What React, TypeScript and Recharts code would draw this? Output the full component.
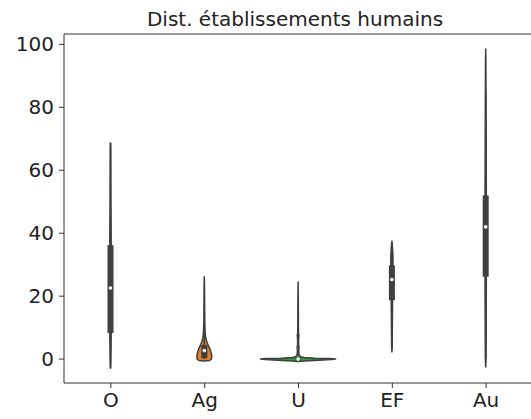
import React from 'react';
import { Bar, ComposedChart, ReferenceLine, XAxis, YAxis } from 'recharts';

// categories and y ticks
const categories = ['O', 'Ag', 'U', 'EF', 'Au'];
const yTicks = [0, 20, 40, 60, 80, 100];
const yMin = -7.6;
const yMax = 103.3;

// violin extent (min / max of the kde)
const violinLow = [-2.9, -0.6, -0.8, 2.3, -2.5];
const violinHigh = [68.7, 26.2, 24.5, 37.5, 98.5];

// inner box
const whiskerLow = [-2.9, 0, 0, 3, 0.5];
const whiskerHigh = [68.7, 10, 0.5, 37, 85];
const q1 = [8.3, 0.3, 0, 18.7, 26.2];
const q3 = [36.2, 4.5, 0.2, 29.8, 52];
const median = [22.6, 2.7, 0, 25.3, 42];

// density profiles: [value, relative half width]
const densityO = [
  [-2.9, 0], [-1, 0.006], [2, 0.011], [6, 0.016], [10, 0.02], [15, 0.022], [20, 0.023],
  [25, 0.022], [30, 0.021], [36, 0.018], [42, 0.016], [48, 0.011], [55, 0.008], [62, 0.006],
  [67, 0.004], [68.7, 0],
];
const densityAg = [
  [-0.6, 0], [-0.45, 0.14], [0, 0.19], [0.8, 0.2], [1.6, 0.19], [2.5, 0.17], [3.5, 0.14],
  [4.5, 0.1], [5.5, 0.066], [7, 0.036], [9, 0.02], [12, 0.013], [16, 0.01], [20, 0.008],
  [24, 0.005], [26.2, 0],
];
const densityU = [
  [-0.8, 0], [-0.6, 0.15], [-0.35, 0.55], [-0.15, 0.88], [0, 1], [0.15, 0.85], [0.3, 0.45],
  [0.5, 0.16], [0.75, 0.06], [1.5, 0.025], [2.5, 0.018], [3.9, 0.026], [4.4, 0.014], [6, 0.012],
  [7.6, 0.022], [8.3, 0.01], [12, 0.008], [18, 0.006], [24.5, 0],
];
const densityEF = [
  [2.3, 0], [4, 0.006], [8, 0.01], [12, 0.013], [16, 0.016], [20, 0.02], [24, 0.024],
  [28, 0.028], [31, 0.03], [33, 0.027], [35, 0.018], [36.5, 0.009], [37.5, 0],
];
const densityAu = [
  [-2.5, 0], [0, 0.008], [5, 0.01], [10, 0.012], [20, 0.015], [30, 0.017], [40, 0.018],
  [50, 0.017], [60, 0.014], [70, 0.011], [80, 0.009], [88, 0.007], [95, 0.005], [98.5, 0],
];
const densities = [densityO, densityAg, densityU, densityEF, densityAu];

const fills = ['#3274a1', '#e1812c', '#3a923a', '#c03d3e', '#9372b2'];
const gray = '#3f3f3f';
const font = 'DejaVu Sans';

const rows = categories.map((name, i) => ({ name, span: [violinLow[i], violinHigh[i]] }));

const Violin = (props: any) => {
  const { x, y, width, height } = props;
  let i = categories.indexOf(props.payload?.name);
  if (i < 0) i = props.index;
  const lo = violinLow[i];
  const hi = violinHigh[i];
  const top = height >= 0 ? y : y + height;
  const k = Math.abs(height) / (hi - lo);
  const py = (v: number) => top + (hi - v) * k;
  const cx = x + width / 2;
  const half = width / 2;
  const pts = densities[i];
  const right = pts.map(([v, w]) => `${cx + w * half},${py(v)}`);
  const left = [...pts].reverse().map(([v, w]) => `${cx - w * half},${py(v)}`);
  const d = `M${right.join('L')}L${left.join('L')}Z`;
  return (
    <g>
      <path d={d} fill={fills[i]} stroke={gray} strokeWidth={1.5} strokeLinejoin="round" />
      <line x1={cx} x2={cx} y1={py(whiskerLow[i])} y2={py(whiskerHigh[i])} stroke={gray} strokeWidth={1.6} />
      <rect x={cx - 3} width={6} y={py(q3[i])} height={Math.max(py(q1[i]) - py(q3[i]), 0.8)} fill={gray} />
      <circle cx={cx} cy={py(median[i])} r={1.8} fill="#ffffff" />
    </g>
  );
};

export default function App() {
  const tickStyle = { fill: '#222', fontSize: 20, fontFamily: font };
  return (
    <div style={{ position: 'fixed', left: 0, top: 0, width: 531, height: 419, overflow: 'hidden', background: '#fff' }}>
      <svg width={531} height={40} style={{ position: 'absolute', left: 0, top: 0 }}>
        <text x={295} y={25.7} textAnchor="middle" fontFamily={font} fontSize={20} fill="#222">
          Dist. établissements humains
        </text>
      </svg>
      <div style={{ position: 'absolute', left: 0, top: 0 }}>
        <ComposedChart width={533} height={419} data={rows} margin={{ top: 34, right: 0, bottom: 6, left: 0 }}>
          <XAxis
            dataKey="name"
            height={30}
            tickSize={5}
            tickMargin={5}
            tick={tickStyle}
            axisLine={{ stroke: '#333' }}
            tickLine={{ stroke: '#333' }}
          />
          <YAxis
            type="number"
            domain={[yMin, yMax]}
            ticks={yTicks}
            width={64}
            tickSize={5}
            tickMargin={5}
            tick={tickStyle}
            axisLine={{ stroke: '#333' }}
            tickLine={{ stroke: '#333' }}
            allowDataOverflow
          />
          <ReferenceLine y={yMax} stroke="#333" strokeWidth={1} />
          <Bar dataKey="span" barSize={75} shape={Violin} isAnimationActive={false} />
        </ComposedChart>
      </div>
    </div>
  );
}
